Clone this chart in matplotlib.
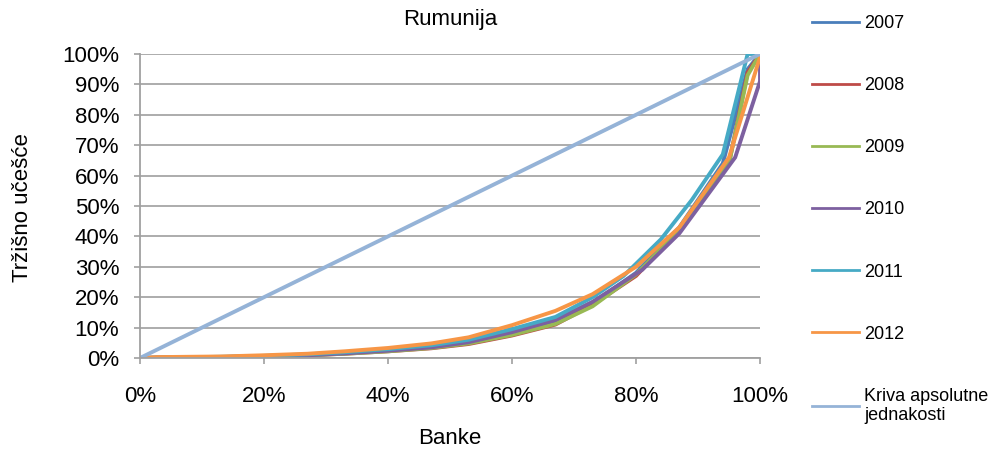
import matplotlib
matplotlib.use('Agg')
import matplotlib.pyplot as plt
from matplotlib.ticker import FuncFormatter

plt.rcParams['font.family'] = ['Liberation Sans', 'DejaVu Sans']

# cumulative share of banks (%) and cumulative market share (%) per year
x_2007 = [0, 3, 13, 20, 27, 33, 40, 47, 53, 60, 67, 73, 80, 87, 94, 98, 100]
y_2007 = [0, 0.1, 0.3, 0.6, 1.0, 1.6, 2.5, 3.6, 5.2, 8.0, 11.5, 18, 28, 43, 64, 95, 100]
x_2008 = [0, 3, 13, 20, 27, 33, 40, 47, 53, 60, 67, 73, 80, 87, 95, 98, 100]
y_2008 = [0, 0.1, 0.3, 0.5, 0.9, 1.4, 2.2, 3.2, 4.6, 7.4, 11, 17.5, 27, 42, 64, 94, 100]
x_2009 = [0, 3, 13, 20, 27, 33, 40, 47, 53, 60, 67, 73, 80, 87, 95, 98, 100]
y_2009 = [0, 0.1, 0.3, 0.5, 0.9, 1.4, 2.2, 3.3, 4.8, 7.6, 11.2, 17, 27.5, 42, 64, 93, 100]
x_2010 = [0, 3, 13, 20, 27, 33, 40, 47, 53, 60, 67, 73, 81, 87, 96, 100, 100]
y_2010 = [0, 0.1, 0.3, 0.5, 0.9, 1.5, 2.4, 3.5, 5.2, 8.5, 12.5, 18.5, 29, 41, 66, 91, 100]
x_2011 = [0, 3, 13, 20, 27, 33, 40, 47, 53, 60, 67, 73, 78, 84, 89, 94, 98, 100]
y_2011 = [0, 0.1, 0.4, 0.7, 1.2, 1.9, 2.9, 4.2, 6.0, 9.5, 13.5, 20, 27, 39, 52, 67, 100, 100]
x_2012 = [0, 3, 13, 20, 27, 33, 40, 47, 53, 60, 67, 73, 80, 87, 95, 100]
y_2012 = [0, 0.3, 0.5, 0.9, 1.4, 2.2, 3.3, 4.8, 6.8, 10.8, 15.5, 21, 30, 43, 66, 99]
x_equal = [0, 100]
y_equal = [0, 100]

series = [
    ('2007', x_2007, y_2007, '#4A7EBB'),
    ('2008', x_2008, y_2008, '#BE4B48'),
    ('2009', x_2009, y_2009, '#98B954'),
    ('2010', x_2010, y_2010, '#7D60A0'),
    ('2011', x_2011, y_2011, '#46AAC5'),
    ('2012', x_2012, y_2012, '#F79646'),
    ('Kriva apsolutne\njednakosti', x_equal, y_equal, '#95B3D7'),
]

fig = plt.figure(figsize=(10.06, 4.57), dpi=100)
ax = fig.add_axes([140 / 1006, 1 - 358 / 457, 620 / 1006, 304 / 457])

for label, xs, ys, color in series:
    ax.plot(xs, ys, color=color, linewidth=2.8, label=label, solid_joinstyle='miter')

ax.set_xlim(0, 100)
ax.set_ylim(0, 100)
ax.set_xticks(range(0, 101, 20))
ax.set_yticks(range(0, 101, 10))
pct = FuncFormatter(lambda v, p: f'{v:.0f}%')
ax.xaxis.set_major_formatter(pct)
ax.yaxis.set_major_formatter(pct)
ax.tick_params(labelsize=16, colors='#A0A0A0', labelcolor='black', length=4, width=1.2)
ax.tick_params(axis='x', pad=16)
ax.tick_params(axis='y', pad=11)
ax.grid(axis='y', color='#A6A6A6', linewidth=1.3)
ax.set_axisbelow(True)
for s in ['top', 'right']:
    ax.spines[s].set_visible(False)
for s in ['left', 'bottom']:
    ax.spines[s].set_color('#A0A0A0')
    ax.spines[s].set_linewidth(1.3)

fig.text(450 / 1006, 1 - 19 / 457, 'Rumunija', ha='center', va='center', fontsize=16)
fig.text(450 / 1006, 1 - 438 / 457, 'Banke', ha='center', va='center', fontsize=16)
fig.text(23 / 1006, 1 - 208 / 457, 'Tržišno učešće', ha='center', va='center',
         rotation=90, fontsize=16)

leg = ax.legend(loc='upper left', bbox_to_anchor=(812 / 1006, 1 - 15 / 457),
                bbox_transform=fig.transFigure, frameon=False, fontsize=13,
                labelspacing=2.5, handlelength=2.6, handletextpad=0.3,
                borderpad=0, borderaxespad=0)
for h in leg.get_lines():
    h.set_linewidth(2)

fig.savefig('out.png', dpi=100)
